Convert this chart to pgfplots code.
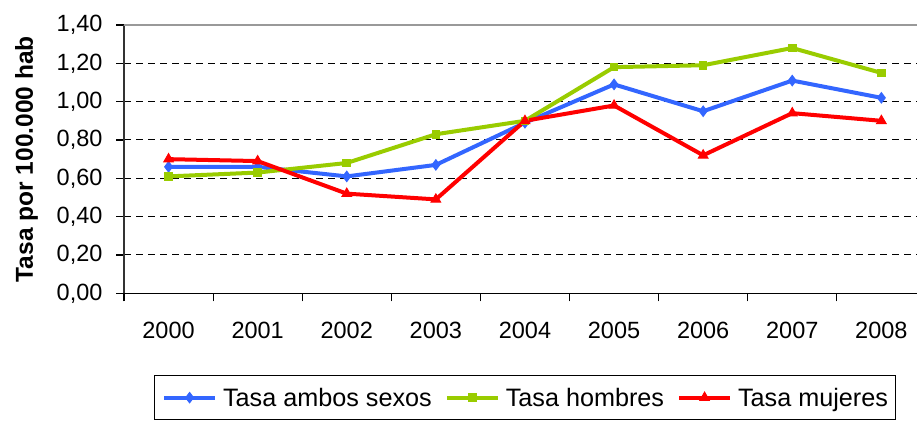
\documentclass[border=0pt]{standalone}
\usepackage{pgfplots}
\pgfplotsset{compat=1.18}
\usepackage{fontspec}
\setmainfont{Liberation Sans}
\definecolor{cblue}{RGB}{51,102,255}
\definecolor{cgreen}{RGB}{153,204,0}
\definecolor{cred}{RGB}{255,0,0}
\begin{document}
\begin{tikzpicture}
\useasboundingbox (0pt,0pt) rectangle (917pt,420pt);
\begin{axis}[
  at={(124pt,126.7pt)}, anchor=south west,
  scale only axis, width=793pt, height=268.3pt,
  xmin=-0.5, xmax=8.4, ymin=0, ymax=1.4,
  axis x line*=bottom, axis y line*=left,
  x axis line style={black, line width=1.4pt},
  y axis line style={black!80, line width=1.4pt},
  xtick={0,1,2,3,4,5,6,7,8},
  xticklabels={2000,2001,2002,2003,2004,2005,2006,2007,2008},
  major x tick style={draw=none},
  minor xtick={-0.5,0.5,1.5,2.5,3.5,4.5,5.5,6.5,7.5},
  minor x tick style={black, line width=1.2pt},
  minor tick length=8pt,
  ytick={0,0.2,0.4,0.6,0.8,1.0,1.2,1.4},
  y tick style={black, line width=1.2pt},
  major tick length=8pt,
  tick align=outside,
  ymajorgrids,
  major grid style={black, line width=1pt, dash pattern=on 7pt off 5pt},
  /pgf/number format/assume math mode=true,
  yticklabel style={/pgf/number format/.cd, fixed, fixed zerofill, precision=2, use comma, /tikz/.cd, xshift=-10pt},
  xticklabel style={yshift=-17pt},
  tick label style={font=\fontsize{23.5}{27}\selectfont},
  ylabel={\bfseries Tasa por 100.000 hab},
  ylabel style={font=\fontsize{24.5}{28}\selectfont, yshift=12pt},
  legend columns=3,
  legend style={at={(0.5057,-0.3055)}, anchor=north, draw=black, line width=1pt,
    font=\fontsize{25.2}{29}\selectfont, inner xsep=8pt, inner ysep=12pt,
    nodes={inner sep=0pt},
    /tikz/every odd column/.append style={column sep=6pt},
    /tikz/every even column/.append style={column sep=13pt}},
  legend image code/.code={\draw[mark repeat=2,mark phase=2,#1] plot coordinates {(0pt,0pt) (25.5pt,0pt) (51pt,0pt)};},
]
\addplot[cblue, line width=4pt, mark=diamond*, mark size=5.2pt, mark options={solid, line width=1pt}] coordinates {
(0,0.66) (1,0.66) (2,0.61) (3,0.67) (4,0.89) (5,1.09) (6,0.95) (7,1.11) (8,1.02)};
\addlegendentry{Tasa ambos sexos}
\addplot[cgreen, line width=4pt, mark=square*, mark size=3.8pt, mark options={solid, line width=1pt}] coordinates {
(0,0.61) (1,0.63) (2,0.68) (3,0.83) (4,0.90) (5,1.18) (6,1.19) (7,1.28) (8,1.15)};
\addlegendentry{Tasa hombres}
\addplot[cred, line width=4pt, mark=triangle*, mark size=5.5pt, mark options={solid, line width=1pt}] coordinates {
(0,0.70) (1,0.69) (2,0.52) (3,0.49) (4,0.90) (5,0.98) (6,0.72) (7,0.94) (8,0.90)};
\addlegendentry{Tasa mujeres}
\draw[black!40, line width=1.5pt] (rel axis cs:0,1) -- (rel axis cs:1,1);
\end{axis}
\end{tikzpicture}
\end{document}
